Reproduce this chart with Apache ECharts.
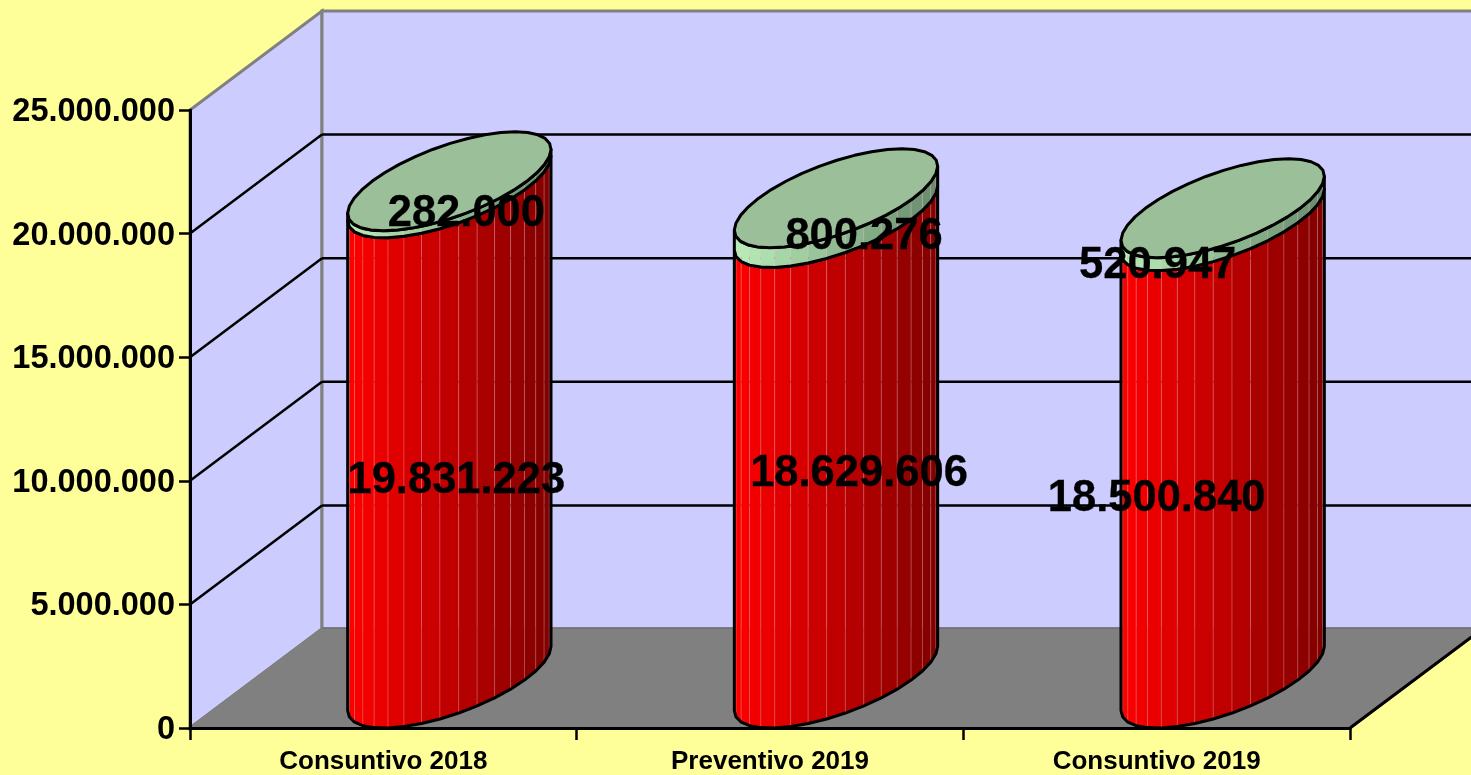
<!DOCTYPE html>
<html>
<head>
<meta charset="utf-8">
<title>Consuntivo</title>
<script src="https://cdn.jsdelivr.net/npm/echarts@6/dist/echarts.min.js"></script>
<style>
  html, body { margin: 0; padding: 0; background: #FFFF99; }
  #chart { width: 1471px; height: 775px; }
</style>
</head>
<body>
<div id="chart"></div>
<script>
// dati
const categories = ['Consuntivo 2018', 'Preventivo 2019', 'Consuntivo 2019']
const baseValues = [19831223, 18629606, 18500840]
const topValues = [282000, 800276, 520947]
const yTicks = [0, 5000000, 10000000, 15000000, 20000000, 25000000]

// spostamento manuale delle etichette [dx dal centro categoria, dy dalla cima del valore]
const baseLabelShift = [[73, 243], [89, 207], [0, 228]]
const topLabelShift = [[83, -17], [94, -11], [1, 8]]

const FONT = '"Liberation Sans", Arial, sans-serif'
const DEPTH_X = 132
const DEPTH_Y = -99
const SEGMENTS = 17

function fmt (v) {
  return String(v).replace(/\B(?=(\d{3})+$)/g, '.')
}

function renderWalls (params, api) {
  const g = params.coordSys
  const x0 = g.x
  const x1 = g.x + g.width
  const y0 = api.coord([0, 0])[1]
  const yMax = api.coord([0, yTicks[yTicks.length - 1]])[1]
  const children = []
  const poly = (points, fill) => ({
    type: 'polygon',
    shape: { points },
    style: { fill, stroke: '#808080', lineWidth: 3 }
  })
  const line = (a, b, stroke, lineWidth) => ({
    type: 'line',
    shape: { x1: a[0], y1: a[1], x2: b[0], y2: b[1] },
    style: { stroke, lineWidth }
  })
  children.push(poly([[x0, y0], [x0 + DEPTH_X, y0 + DEPTH_Y], [x0 + DEPTH_X, yMax + DEPTH_Y], [x0, yMax]], '#CCCCFF'))
  children.push(poly([[x0 + DEPTH_X, y0 + DEPTH_Y], [x1 + DEPTH_X, y0 + DEPTH_Y], [x1 + DEPTH_X, yMax + DEPTH_Y], [x0 + DEPTH_X, yMax + DEPTH_Y]], '#CCCCFF'))
  children.push(poly([[x0, y0], [x1, y0], [x1 + DEPTH_X, y0 + DEPTH_Y], [x0 + DEPTH_X, y0 + DEPTH_Y]], '#808080'))
  yTicks.slice(1, -1).forEach(t => {
    const y = api.coord([0, t])[1]
    children.push(line([x0, y], [x0 + DEPTH_X, y + DEPTH_Y], '#000', 2.5))
    children.push(line([x0 + DEPTH_X, y + DEPTH_Y], [x1 + DEPTH_X, y + DEPTH_Y], '#000', 2.5))
  })
  children.push(line([x0 + DEPTH_X, y0 + DEPTH_Y - 1], [x1 + DEPTH_X, y0 + DEPTH_Y - 1], '#666', 1))
  children.push(line([x1, y0], [x1 + DEPTH_X, y0 + DEPTH_Y], '#000', 3))
  return { type: 'group', children }
}

// cilindro a facce: fromVal/toVal sono i valori impilati
function renderCylinder (sideFrom, sideTo, withTop, labels, shifts) {
  return function (params, api) {
    const i = api.value(0)
    const fromVal = api.value(1)
    const toVal = api.value(2)
    const centre = api.coord([i, 0])
    const band = api.size([1, 0])[0]
    const ru = band * 0.2
    const vx = DEPTH_X / 2
    const vy = DEPTH_Y / 2
    const cx = centre[0] + vx
    const yFrom = api.coord([i, fromVal])[1] + vy
    const yTo = api.coord([i, toVal])[1] + vy
    const t0 = Math.atan2(vx, ru)
    const halfW = Math.sqrt(ru * ru + vx * vx)
    const pt = (t, cy) => [cx + ru * Math.cos(t) + vx * Math.sin(t), cy + vy * Math.sin(t)]
    const children = []
    const lower = []
    const upper = []
    for (let k = 0; k <= SEGMENTS; k++) {
      const t = t0 + Math.PI + Math.PI * k / SEGMENTS
      lower.push(pt(t, yFrom))
      upper.push(pt(t, yTo))
    }
    for (let k = 0; k < SEGMENTS; k++) {
      const f = ((lower[k][0] + lower[k + 1][0]) / 2 - (cx - halfW)) / (2 * halfW)
      const c = sideFrom.map((v, n) => Math.round(v + (sideTo[n] - v) * f))
      children.push({
        type: 'polygon',
        shape: { points: [lower[k], lower[k + 1], upper[k + 1], upper[k]] },
        style: { fill: `rgb(${c.join(',')})`, stroke: 'rgba(255,190,190,0.22)', lineWidth: 1 }
      })
    }
    children.push({
      type: 'polygon',
      shape: { points: lower.concat(upper.slice().reverse()) },
      style: { fill: 'none', stroke: '#000', lineWidth: 3, lineJoin: 'round' }
    })
    if (withTop) {
      const ring = []
      for (let k = 0; k < 36; k++) ring.push(pt(Math.PI * 2 * k / 36, yTo))
      children.push({
        type: 'polygon',
        shape: { points: ring },
        style: { fill: '#9ABF99', stroke: '#000', lineWidth: 3, lineJoin: 'round' }
      })
    }
    const yTop = api.coord([i, toVal])[1]
    children.push({
      type: 'text',
      z2: 100,
      style: {
        text: fmt(labels[i]),
        x: centre[0] + shifts[i][0],
        y: yTop + shifts[i][1],
        align: 'center',
        verticalAlign: 'middle',
        fill: '#000',
        stroke: '#000',
        lineWidth: 0.3,
        font: 'bold 43.5px ' + FONT
      }
    })
    return { type: 'group', children }
  }
}

const chart = echarts.init(document.getElementById('chart'), null, { renderer: 'canvas' })

chart.setOption({
  animation: false,
  backgroundColor: '#FFFF99',
  grid: { left: 190, right: 121, top: 110, bottom: 47, outerBoundsMode: 'none' },
  xAxis: {
    type: 'category',
    data: categories,
    z: 3,
    axisLine: { lineStyle: { color: '#000', width: 3 } },
    axisTick: { show: true, length: 12, lineStyle: { color: '#000', width: 2.5 } },
    axisLabel: {
      color: '#000', fontFamily: FONT, fontWeight: 'bold', fontSize: 26, margin: 21
    },
    splitLine: { show: false }
  },
  yAxis: {
    type: 'value',
    min: 0,
    max: 25000000,
    interval: 5000000,
    z: 3,
    axisLine: { show: true, lineStyle: { color: '#000', width: 3 } },
    axisTick: { show: true, length: 11, lineStyle: { color: '#000', width: 2.5 } },
    axisLabel: {
      margin: 15,
      formatter: v => `{v|${fmt(v)}}`,
      rich: {
        v: {
          color: '#000', fontFamily: FONT, fontWeight: 'bold', fontSize: 32.5,
          lineHeight: 36, padding: [4, 0, 0, 0]
        }
      }
    },
    splitLine: { show: false }
  },
  series: [
    {
      type: 'custom',
      z: 1,
      silent: true,
      clip: false,
      data: [[0, 0]],
      renderItem: renderWalls
    },
    {
      type: 'custom',
      z: 4,
      silent: true,
      clip: false,
      encode: { x: 0, y: 2 },
      data: categories.map((c, i) => [i, 0, baseValues[i]]),
      renderItem: renderCylinder([255, 0, 0], [128, 0, 0], false, baseValues, baseLabelShift)
    },
    {
      type: 'custom',
      z: 5,
      silent: true,
      clip: false,
      encode: { x: 0, y: 2 },
      data: categories.map((c, i) => [i, baseValues[i], baseValues[i] + topValues[i]]),
      renderItem: renderCylinder([186, 238, 186], [104, 138, 108], true, topValues, topLabelShift)
    }
  ]
})
</script>
</body>
</html>
